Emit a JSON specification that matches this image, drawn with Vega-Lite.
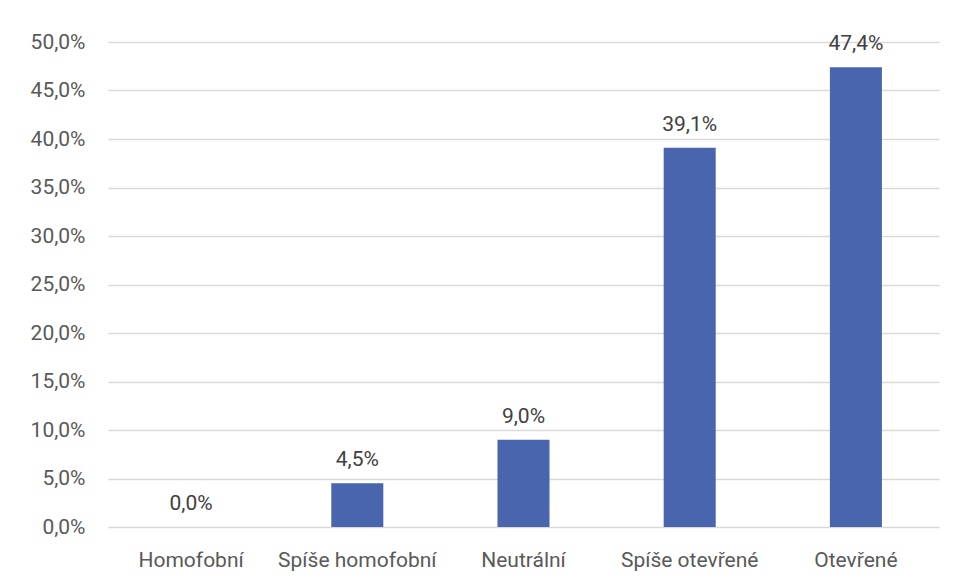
{
  "$schema": "https://vega.github.io/schema/vega-lite/v6.json",
  "width": 831,
  "height": 485,
  "autosize": {"type": "none"},
  "padding": {"left": 108, "top": 42, "right": 16, "bottom": 53},
  "background": "white",
  "config": {
    "view": {"stroke": null},
    "locale": {"number": {"decimal": ",", "thousands": " ", "grouping": [3], "currency": ["", " Kč"]}},
    "font": "Roboto"
  },
  "data": {
    "values": [
      {"kategorie": "Homofobní", "podil": 0.0},
      {"kategorie": "Spíše homofobní", "podil": 0.045},
      {"kategorie": "Neutrální", "podil": 0.09},
      {"kategorie": "Spíše otevřené", "podil": 0.391},
      {"kategorie": "Otevřené", "podil": 0.474}
    ]
  },
  "encoding": {
    "x": {
      "field": "kategorie",
      "type": "nominal",
      "sort": null,
      "scale": {"paddingInner": 0.687, "paddingOuter": 0.3435},
      "axis": {
        "title": null,
        "labelAngle": 0,
        "ticks": false,
        "domain": false,
        "grid": false,
        "labelFont": "Roboto",
        "labelFontSize": 21,
        "labelColor": "#595959",
        "labelBaseline": "alphabetic",
        "labelPadding": 39
      }
    },
    "y": {
      "field": "podil",
      "type": "quantitative",
      "scale": {"domain": [0, 0.5], "nice": false},
      "axis": {
        "title": null,
        "values": [0, 0.05, 0.1, 0.15, 0.2, 0.25, 0.3, 0.35, 0.4, 0.45, 0.5],
        "format": ".1%",
        "ticks": false,
        "domain": false,
        "gridColor": "#d9d9d9",
        "gridWidth": 1.3,
        "labelFont": "Roboto",
        "labelFontSize": 21,
        "labelColor": "#595959",
        "labelPadding": 23
      }
    }
  },
  "layer": [
    {"mark": {"type": "bar", "color": "#4865ad"}},
    {
      "mark": {"type": "text", "baseline": "alphabetic", "dy": -17, "font": "Roboto", "fontSize": 21, "color": "#404040"},
      "encoding": {"text": {"field": "podil", "type": "quantitative", "format": ".1%"}}
    }
  ]
}
